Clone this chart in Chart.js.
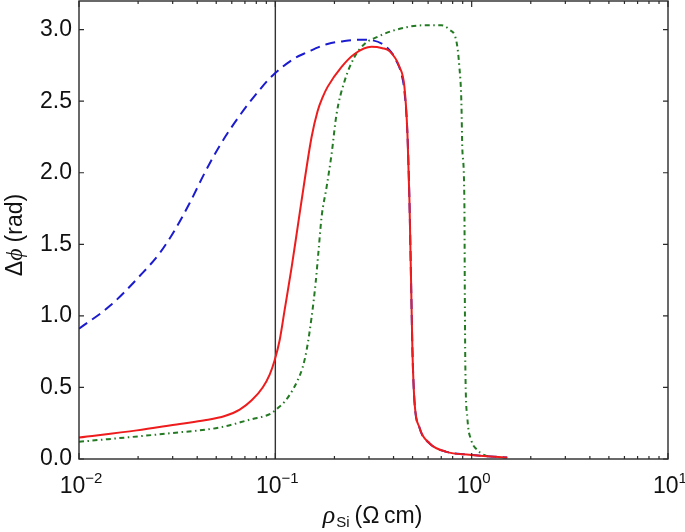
<!DOCTYPE html>
<html><head><meta charset="utf-8">
<script src="https://cdn.jsdelivr.net/npm/chart.js@4/dist/chart.umd.min.js"></script>
<style>html,body{margin:0;padding:0;background:#fff}</style>
</head><body>
<canvas id="c" width="685" height="532"></canvas>
<script>
// ---- data ----
const blueX = [0.0100,0.01438,0.02043,0.02582,0.03077,0.03668,0.04372,0.05212,0.06586,0.08324,0.09691,0.1254,0.1443,0.1846,0.2252,0.2748,0.3513,0.3951,0.4140,0.4389,0.4545,0.4709,0.4820,0.4934,0.4992,0.5109,0.5420,0.6092,0.7434,0.9730,1.518];
const blueY = [0.91,1.07,1.28,1.44,1.60,1.79,2.00,2.19,2.40,2.58,2.68,2.80,2.84,2.90,2.92,2.93,2.90,2.83,2.78,2.69,2.57,2.27,1.81,1.11,0.76,0.41,0.22,0.11,0.05,0.03,0.01];

const redX = [0.0100,0.01972,0.03263,0.04372,0.05525,0.06586,0.07579,0.08623,0.09359,0.09922,0.1052,0.1115,0.1211,0.1299,0.1393,0.1530,0.1641,0.1745,0.1846,0.2175,0.2532,0.3090,0.3513,0.3814,0.4288,0.4545,0.4709,0.4820,0.4934,0.4992,0.5109,0.5420,0.6092,0.7434,0.9730,1.518];
const redY = [0.15,0.20,0.245,0.27,0.30,0.345,0.41,0.50,0.59,0.69,0.83,1.04,1.34,1.62,1.90,2.25,2.43,2.53,2.60,2.74,2.83,2.88,2.87,2.85,2.74,2.60,2.27,1.81,1.11,0.76,0.41,0.22,0.11,0.05,0.03,0.01];

const greenX = [0.0100,0.02902,0.05212,0.07667,0.08826,0.09579,0.1028,0.1115,0.1211,0.1299,0.1377,0.1443,0.1530,0.1604,0.1661,0.1720,0.1824,0.1934,0.2050,0.2252,0.2532,0.2846,0.3314,0.4140,0.5613,0.7013,0.7697,0.8356,0.8658,0.8861,0.8966,0.9178,0.9232,0.9287,0.9506,0.9961,1.056,1.133,1.259];
const greenY = [0.12,0.18,0.22,0.28,0.30,0.32,0.355,0.40,0.47,0.55,0.64,0.76,0.99,1.23,1.46,1.69,1.90,2.13,2.41,2.64,2.81,2.90,2.95,3.00,3.03,3.03,3.00,2.92,2.74,2.50,2.16,1.81,1.11,0.64,0.29,0.13,0.07,0.035,0.01];

const markerX = [0.1, 0.1];
const markerY = [0, 3.2];

const xTickValues = [0.01, 0.1, 1, 10];
const xTickExponents = ['\u22122', '\u22121', '0', '1'];
const yTickValues = [0, 0.5, 1.0, 1.5, 2.0, 2.5, 3.0];
const yTickLabels = ['0.0', '0.5', '1.0', '1.5', '2.0', '2.5', '3.0'];

const xRange = [0.01, 10];
const yRange = [0, 3.2];

function pts(xs, ys){ return xs.map((x,i)=>({x:x, y:ys[i]})); }

const SANS = '"Liberation Sans", Arial, Helvetica, sans-serif';
const AX = '#2a2a2a';

function drawSegments(ctx, segs, cx, baseY){
  let total = 0;
  segs.forEach(s=>{ ctx.font = s.font; s.w = ctx.measureText(s.t).width; total += s.w + (s.gap||0); });
  let x = cx - total/2;
  ctx.textBaseline = 'alphabetic';
  ctx.textAlign = 'left';
  segs.forEach(s=>{ ctx.font = s.font; ctx.fillText(s.t, x, baseY + (s.dy||0)); x += s.w + (s.gap||0); });
}

const deco = {
  id: 'deco',
  afterDatasetsDraw(chart){
    const ctx = chart.ctx, a = chart.chartArea;
    const xs = chart.scales.x, ys = chart.scales.y;
    ctx.save();
    ctx.strokeStyle = AX; ctx.lineWidth = 1.4;
    ctx.strokeRect(a.left, a.top, a.right - a.left, a.bottom - a.top);
    ctx.lineWidth = 1.2;
    ctx.beginPath();
    yTickValues.forEach(v=>{
      const p = ys.getPixelForValue(v);
      ctx.moveTo(a.left, p); ctx.lineTo(a.left + 5, p);
      ctx.moveTo(a.right, p); ctx.lineTo(a.right - 5, p);
    });
    xTickValues.forEach((v, i)=>{
      const p = xs.getPixelForValue(v);
      ctx.moveTo(p, a.bottom); ctx.lineTo(p, a.bottom - 6);
      ctx.moveTo(p, a.top); ctx.lineTo(p, a.top + 6);
      if (i < xTickValues.length - 1){
        for (let m = 2; m <= 9; m++){
          const q = xs.getPixelForValue(v*m);
          ctx.moveTo(q, a.bottom); ctx.lineTo(q, a.bottom - 3);
          ctx.moveTo(q, a.top); ctx.lineTo(q, a.top + 3);
        }
      }
    });
    ctx.stroke();

    ctx.fillStyle = '#111';
    xTickValues.forEach((v,i)=>{
      const p = xs.getPixelForValue(v);
      drawSegments(ctx, [
        {t:'10', font:'23px ' + SANS},
        {t:xTickExponents[i], font:'15px ' + SANS, dy:-10}
      ], p + 2, a.bottom + 34);
    });

    drawSegments(ctx, [
      {t:'\u03c1', font:'italic 26px "Liberation Serif", "DejaVu Serif", serif', gap:1},
      {t:'Si', font:'15px ' + SANS, dy:4, gap:5},
      {t:'(\u03a9\u2009cm)', font:'23px ' + SANS}
    ], (a.left + a.right)/2 - 1, a.bottom + 64);

    ctx.save();
    ctx.translate(22, (a.top + a.bottom)/2 + 5);
    ctx.rotate(-Math.PI/2);
    drawSegments(ctx, [
      {t:'\u0394', font:'23px ' + SANS},
      {t:'\u03d5', font:'italic 24px "Liberation Serif", "DejaVu Serif", serif', gap:6},
      {t:'(rad)', font:'23px ' + SANS}
    ], 0, 0);
    ctx.restore();
    ctx.restore();
  }
};

const lineBase = {showLine:true, pointRadius:0, pointHoverRadius:0, fill:false, cubicInterpolationMode:'monotone'};

new Chart(document.getElementById('c'), {
  type: 'scatter',
  data: {
    datasets: [
      Object.assign({label:'red', data: pts(redX, redY), borderColor:'#ee1c1c', borderWidth:2}, lineBase),
      Object.assign({label:'blue', data: pts(blueX, blueY), borderColor:'#1b1bcf', borderWidth:2, borderDash:[10,6]}, lineBase),
      Object.assign({label:'green', data: pts(greenX, greenY), borderColor:'#237a23', borderWidth:2, borderDash:[5,3.5,1.5,3.5]}, lineBase),
      Object.assign({label:'marker', data: pts(markerX, markerY), borderColor:'#333', borderWidth:1.4}, lineBase, {cubicInterpolationMode:'default', tension:0})
    ]
  },
  options: {
    responsive: false,
    animation: false,
    devicePixelRatio: 1,
    layout: {padding: {left: 0, right: 17, top: 1, bottom: 0}},
    plugins: {legend:{display:false}, tooltip:{enabled:false}},
    scales: {
      x: {
        type: 'logarithmic', min: xRange[0], max: xRange[1],
        grid: {display:false, drawTicks:false}, border:{display:false},
        ticks: {display:false},
        afterBuildTicks(s){ s.ticks = xTickValues.map(v=>({value:v})); },
        afterFit(s){ s.height = 73; s.paddingLeft = 0; s.paddingRight = 0; }
      },
      y: {
        type: 'linear', min: yRange[0], max: yRange[1],
        grid: {display:false, drawTicks:false}, border:{display:false},
        afterBuildTicks(s){ s.ticks = yTickValues.map(v=>({value:v})); },
        ticks: {
          padding: 7, color:'#111',
          font: {family: SANS, size: 23},
          callback(v){ const i = yTickValues.indexOf(v); return i >= 0 ? yTickLabels[i] : ''; }
        },
        afterFit(s){ s.width = 79; s.paddingTop = 0; s.paddingBottom = 0; }
      }
    }
  },
  plugins: [deco]
});
</script>
</body></html>
